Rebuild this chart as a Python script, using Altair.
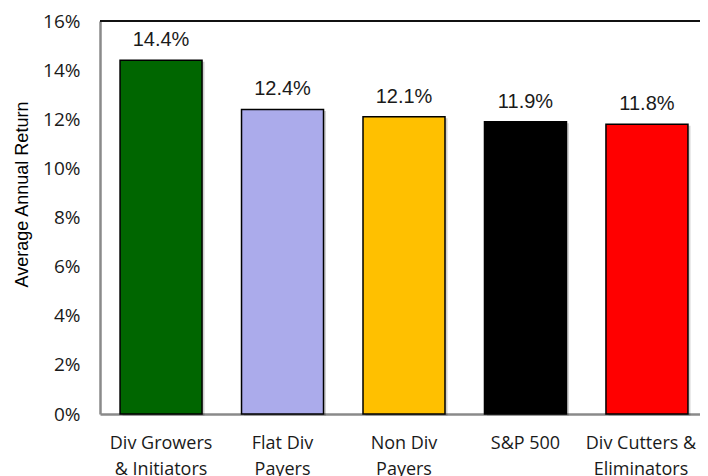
import altair as alt
import pandas as pd

categories = ["Div Growers|& Initiators", "Flat Div|Payers", "Non Div|Payers", "S&P 500", "Div Cutters &|Eliminators"]
returns = [0.144, 0.124, 0.121, 0.119, 0.118]
colors = ["#006600", "#ABABEB", "#FFC000", "#000000", "#FF0000"]
y_ticks = [0, 0.02, 0.04, 0.06, 0.08, 0.10, 0.12, 0.14, 0.16]

df = pd.DataFrame({"category": categories, "ret": returns, "color": colors})

W, H = 600, 393
RANGE_W = 608

x_enc = alt.X(
    "category:N",
    sort=categories,
    scale=alt.Scale(paddingInner=0.325, paddingOuter=0.165, range=[0, RANGE_W]),
    axis=alt.Axis(
        title=None, labelAngle=0, ticks=False, domainColor="#8a8a8a", domainWidth=2.5,
        labelExpr="split(datum.value, '|')", labelFont="Open Sans", labelFontSize=18,
        labelColor="#1a1a1a", labelPadding=20, labelLineHeight=26, labelBaseline="top",
        labelOffset=alt.condition("datum.value == 'Div Cutters &|Eliminators'", alt.value(-6), alt.value(0)),
    ),
)
y_enc = alt.Y(
    "ret:Q",
    scale=alt.Scale(domain=[0, 0.16], nice=False),
    axis=alt.Axis(
        values=y_ticks, format=".0%", title="Average Annual Return", grid=False, ticks=False,
        domainColor="#8a8a8a", domainWidth=2.5, labelFont="Open Sans", labelFontSize=19,
        labelColor="#1a1a1a", labelPadding=20,
        titleFont="Liberation Sans", titleFontSize=18, titleFontWeight="normal",
        titleColor="#000000", titleX=-73, titleY=173, titleBaseline="alphabetic",
    ),
)

base = alt.Chart(df)
shadow = base.mark_bar(color="#000000", opacity=0.18, xOffset=2.5, x2Offset=2.5, yOffset=1.5).encode(
    x=x_enc, y=y_enc
)
bars = base.mark_bar(stroke="black", strokeWidth=1.5).encode(
    x=x_enc, y=y_enc, color=alt.Color("color:N", scale=None)
)
labels = base.mark_text(
    baseline="alphabetic", dy=-14, font="Liberation Sans", fontSize=20, color="#1a1a1a"
).encode(x=x_enc, y=y_enc, text=alt.Text("ret:Q", format=".1%"))
top_line = alt.Chart(pd.DataFrame({"v": [0.16]})).mark_rule(color="#111111", strokeWidth=2).encode(
    y=alt.datum(0.16), x=alt.value(0), x2=alt.value(W)
)

chart = alt.layer(shadow, bars, labels, top_line).properties(
    width=W, height=H,
    autosize=alt.AutoSizeParams(type="none"),
    padding={"left": 92, "top": 13, "right": 0, "bottom": 62},
).configure_view(stroke=None)

chart.save("out.html", embed_options={"renderer": "svg", "actions": False})
